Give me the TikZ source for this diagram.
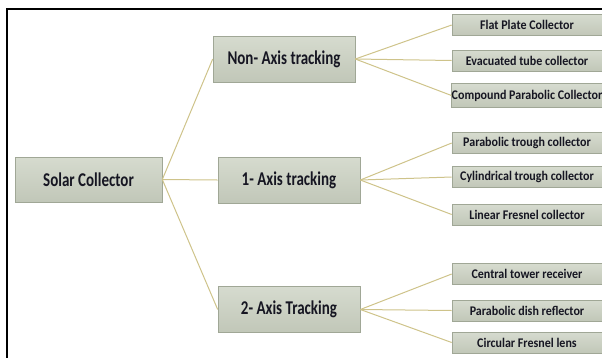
\documentclass[tikz,border=0pt]{standalone}
\usepackage{fontspec}
\setmainfont{Carlito}
\usetikzlibrary{shadows}
\definecolor{boxtop}{RGB}{214,219,207}
\definecolor{boxbot}{RGB}{193,199,184}
\definecolor{boxline}{RGB}{160,167,150}
\definecolor{link}{RGB}{206,195,138}
\definecolor{ink}{RGB}{22,22,34}
\tikzset{
  box/.style={rectangle, draw=boxline, line width=0.6pt, top color=boxtop, bottom color=boxbot,
    inner sep=0pt, text=ink, font=\bfseries,
    drop shadow={shadow xshift=0.8pt, shadow yshift=-0.8pt, opacity=0.25, fill=black}},
  rootbox/.style={box, minimum width=147pt, minimum height=45pt, font=\bfseries\fontsize{15}{18}\selectfont},
  midbox/.style={box, minimum width=142pt, minimum height=46pt, font=\bfseries\fontsize{15}{18}\selectfont},
  leafbox/.style={box, minimum width=150pt, minimum height=21pt, font=\bfseries\fontsize{12}{14}\selectfont},
  conn/.style={draw=link, line width=1pt},
  frame/.style={draw=black, line width=1.8pt}
}
\newcommand{\tall}[1]{\scalebox{1}[1.3]{#1}}
\newcommand{\lt}[1]{\scalebox{1}[1.1]{#1}}
\begin{document}
\begin{tikzpicture}[x=1pt,y=-1pt]
\useasboundingbox (0,0) rectangle (602,357);
\clip (0,0) rectangle (602,357);
\draw[frame] (7,9) rectangle (640,400);

\node[rootbox] (root) at (88.5,179.5) {\tall{Solar Collector}};
\node[midbox] (non) at (284,59) {\tall{Non- Axis tracking}};
\node[midbox] (one) at (289,180) {\tall{1- Axis tracking}};
\node[midbox] (two) at (289,309.5) {\tall{2- Axis Tracking}};

\node[leafbox] (fp) at (527,25) {\lt{Flat Plate Collector}};
\node[leafbox] (et) at (527,60.5) {\lt{Evacuated tube collector}};
\node[leafbox, minimum height=24pt] (cp) at (527,95.5) {\lt{Compound Parabolic Collector}};
\node[leafbox] (pt) at (527,143) {\lt{Parabolic trough collector}};
\node[leafbox] (ct) at (527,177) {\lt{Cylindrical trough collector}};
\node[leafbox] (lf) at (527,214.5) {\lt{Linear Fresnel collector}};
\node[leafbox] (tr) at (527,274) {\lt{Central tower receiver}};
\node[leafbox] (pd) at (527,310.5) {\lt{Parabolic dish reflector}};
\node[leafbox] (cf) at (527,342.5) {\lt{Circular Fresnel lens}};

\foreach \m in {non,one,two} \draw[conn] (root.east) -- (\m.west);
\foreach \l in {fp,et,cp} \draw[conn] (non.east) -- (\l.west);
\foreach \l in {pt,ct,lf} \draw[conn] (one.east) -- (\l.west);
\foreach \l in {tr,pd,cf} \draw[conn] (two.east) -- (\l.west);
\end{tikzpicture}
\end{document}
